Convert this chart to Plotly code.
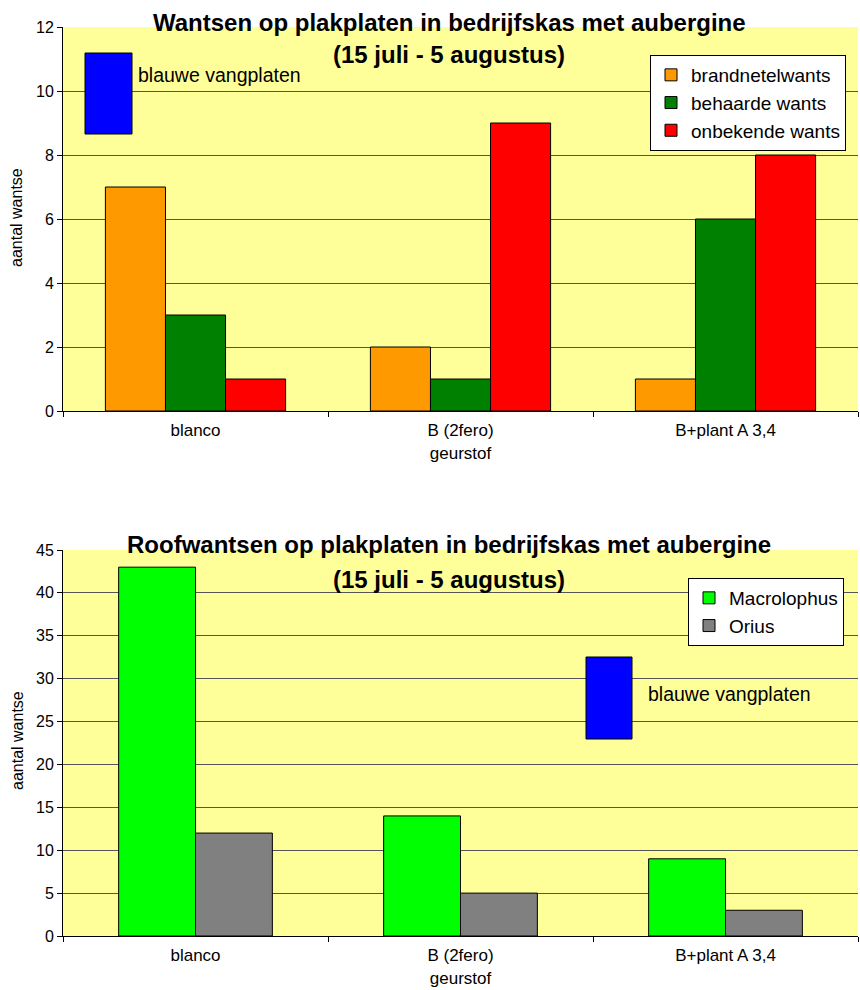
import plotly.graph_objects as go

W, H = 860, 990

categories = ["blanco", "B (2fero)<br>geurstof", "B+plant A 3,4"]

top_names = ["brandnetelwants", "behaarde wants", "onbekende wants"]
top_values = [[7, 2, 1], [3, 1, 6], [1, 9, 8]]
top_colors = ["#FF9900", "#008000", "#FF0000"]

bot_names = ["Macrolophus", "Orius"]
bot_values = [[43, 14, 9], [12, 5, 3]]
bot_colors = ["#00FF00", "#808080"]

top_title = ["Wantsen op plakplaten in bedrijfskas met aubergine", "(15 juli - 5 augustus)"]
bot_title = ["Roofwantsen op plakplaten in bedrijfskas met aubergine", "(15 juli - 5 augustus)"]
ytitle = "aantal wantse"
blue_label = "blauwe vangplaten"

def px(x):
    return x / W

def py(y):
    return 1 - y / H

fig = go.Figure()
for n, v, c in zip(top_names, top_values, top_colors):
    fig.add_trace(go.Bar(x=categories, y=v, name=n, marker=dict(color=c, line=dict(color="black", width=1)),
                         xaxis="x", yaxis="y", legend="legend"))
for i, (n, v, c) in enumerate(zip(bot_names, bot_values, bot_colors)):
    fig.add_trace(go.Bar(x=categories, y=v, name=n, marker=dict(color=c, line=dict(color="black", width=1)),
                         xaxis="x2", yaxis="y2", legend="legend2", width=0.29, offset=-0.29 + 0.29 * i))

FONT = "Liberation Sans, Arial, sans-serif"
xcommon = dict(type="category", tickson="boundaries", ticks="outside", ticklen=5, tickcolor="black",
               showline=True, linecolor="black", linewidth=1, showgrid=False, automargin=False,
               tickfont=dict(size=17, color="black", family=FONT), ticklabelstandoff=4)
ycommon = dict(ticks="outside", ticklen=5, tickcolor="black", showline=True, linecolor="black", linewidth=1,
               showgrid=True, gridcolor="#555555", gridwidth=1, zeroline=False, automargin=False,
               tickfont=dict(size=16, color="black", family=FONT))

fig.update_layout(
    width=W, height=H, autosize=False,
    margin=dict(l=0, r=0, t=0, b=0, pad=0, autoexpand=False),
    paper_bgcolor="white", plot_bgcolor="#FFFF99",
    barmode="group", bargap=0.32,
    font=dict(family=FONT, color="black"),
    xaxis=dict(domain=[px(63), px(858)], anchor="y", **xcommon),
    yaxis=dict(domain=[py(411), py(27)], anchor="x", range=[0, 12], dtick=2, **ycommon),
    xaxis2=dict(domain=[px(63), px(858)], anchor="y2", **xcommon),
    yaxis2=dict(domain=[py(936), py(550)], anchor="x2", range=[0, 45], dtick=5, **ycommon),
    legend=dict(x=px(846), y=py(55), xanchor="right", yanchor="top", bgcolor="white", itemwidth=30,
                bordercolor="black", borderwidth=1, font=dict(size=19, family=FONT)),
    legend2=dict(x=px(844), y=py(578), xanchor="right", yanchor="top", bgcolor="white", itemwidth=30,
                 bordercolor="black", borderwidth=1, font=dict(size=19, family=FONT)),
)

annotations = []
def title(lines, y1, y2):
    for txt, yy in zip(lines, (y1, y2)):
        annotations.append(dict(text="<b>%s</b>" % txt, x=px(449), y=py(yy), xref="paper", yref="paper",
                                showarrow=False, font=dict(size=24, family=FONT, color="black"),
                                xanchor="center", yanchor="middle"))

title(top_title, 22, 54)
title(bot_title, 544, 579)

for yc in (218, 741):
    annotations.append(dict(text=ytitle, x=px(17), y=py(yc), xref="paper", yref="paper", showarrow=False,
                            textangle=-90, font=dict(size=16, family=FONT, color="black"),
                            xanchor="center", yanchor="middle"))

annotations.append(dict(text=blue_label, x=px(136), y=py(75), xref="paper", yref="paper", showarrow=False,
                        font=dict(size=19.5, family=FONT, color="black"), xanchor="left", yanchor="middle"))
annotations.append(dict(text=blue_label, x=px(646), y=py(694), xref="paper", yref="paper", showarrow=False,
                        font=dict(size=19.5, family=FONT, color="black"), xanchor="left", yanchor="middle"))
fig.update_layout(annotations=annotations)

shapes = [
    dict(type="rect", xref="paper", yref="paper", x0=px(85), x1=px(132), y0=py(134), y1=py(53),
         fillcolor="#0000FF", line=dict(color="black", width=1)),
    dict(type="rect", xref="paper", yref="paper", x0=px(586), x1=px(632), y0=py(739), y1=py(657),
         fillcolor="#0000FF", line=dict(color="black", width=1)),
]
fig.update_layout(shapes=shapes)

fig.write_html(
    "out.html",
    config={"displayModeBar": False},
    post_script=(
        "document.body.style.margin='0';"
        "document.documentElement.style.overflow='hidden';"
        "var d=document.getElementById('{plot_id}');"
        "d.style.position='fixed';d.style.left='0px';d.style.top='0px';"
    ),
)
